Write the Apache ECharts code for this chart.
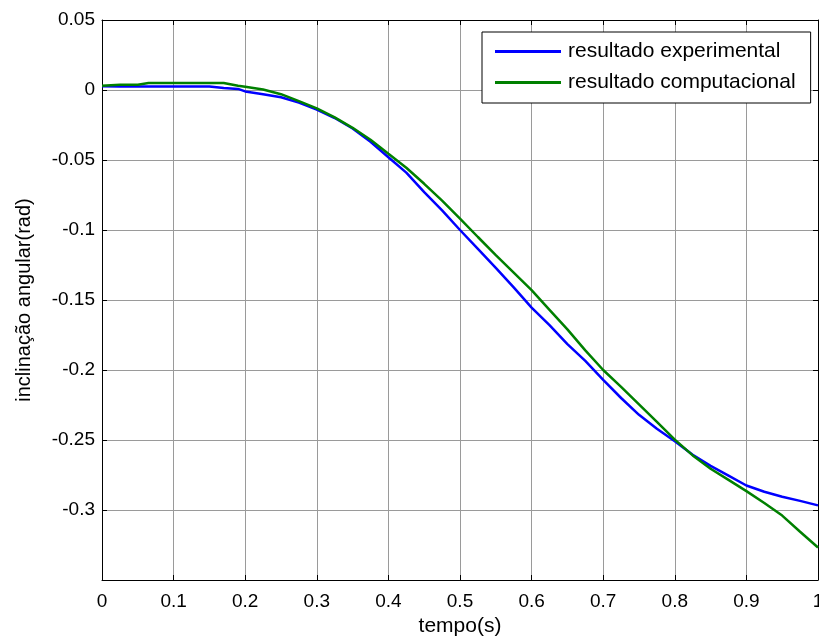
<!DOCTYPE html>
<html>
<head>
<meta charset="utf-8">
<title>inclinação angular</title>
<script src="https://cdn.jsdelivr.net/npm/echarts@6/dist/echarts.min.js"></script>
<style>
	html, body { margin: 0; padding: 0; background: #fff; }
	#chart { width: 819px; height: 639px; }
</style>
</head>
<body>
<div id="chart"></div>
<script>
// tempo (s)
var tempo = [0, 0.025, 0.05, 0.065, 0.075, 0.1, 0.125, 0.15, 0.17, 0.19, 0.2, 0.225, 0.25, 0.275,
	0.3, 0.325, 0.35, 0.375, 0.4, 0.425, 0.45, 0.475, 0.5, 0.525, 0.55, 0.575, 0.6, 0.625,
	0.65, 0.675, 0.7, 0.725, 0.75, 0.775, 0.8, 0.825, 0.85, 0.875, 0.9, 0.925, 0.95, 0.975, 1.0];

// resultado experimental
var experimental = [0.0026, 0.0025, 0.0025, 0.0025, 0.0025, 0.0025, 0.0025, 0.0025, 0.0014, 0.0008, -0.001, -0.003, -0.0052, -0.009,
	-0.014, -0.020, -0.0275, -0.037, -0.048, -0.059, -0.0729, -0.086, -0.100, -0.1135, -0.127, -0.141, -0.1555, -0.168,
	-0.1815, -0.1935, -0.207, -0.220, -0.232, -0.242, -0.2509, -0.2605, -0.2685, -0.2755, -0.2825, -0.287, -0.2905, -0.2935, -0.2967];

// resultado computacional
var computacional = [0.003, 0.0038, 0.0038, 0.005, 0.005, 0.005, 0.005, 0.005, 0.005, 0.003, 0.0023, 0.0003, -0.003, -0.008,
	-0.0131, -0.0195, -0.027, -0.0355, -0.0456, -0.0555, -0.067, -0.079, -0.0918, -0.105, -0.118, -0.1305, -0.143, -0.157,
	-0.171, -0.186, -0.200, -0.212, -0.2245, -0.237, -0.2497, -0.261, -0.2705, -0.2785, -0.2865, -0.295, -0.304, -0.3155, -0.3268];

var nomes = ['resultado experimental', 'resultado computacional'];

//拼接 [x, y]
function pares(ys) {
	return tempo.map(function(t, i) { return [t, ys[i]]; });
}

//刻度标签格式
function rotulo(v) {
	var r = Math.round(v * 100) / 100;
	return String(r);
}

var fonte = 'Liberation Sans, Arial, sans-serif';

var myChart = echarts.init(document.getElementById('chart'));
var option = {
	backgroundColor: '#fff',
	animation: false,
	grid: { left: 102, right: 1, top: 20, bottom: 59, containLabel: false, outerBoundsMode: 'none' },
	legend: {
		data: nomes,
		orient: 'vertical',
		left: 482,
		top: 32,
		padding: [9, 15, 10, 13],
		itemGap: 10,
		itemWidth: 66,
		itemHeight: 3,
		icon: 'rect',
		backgroundColor: '#fff',
		borderColor: '#000',
		borderWidth: 1,
		borderRadius: 0,
		textStyle: { fontFamily: fonte, fontSize: 21, color: '#000', lineHeight: 20, padding: [0, 0, 0, 2] }
	},
	xAxis: [{
		type: 'value',
		min: 0, max: 1, interval: 0.1,
		name: 'tempo(s)',
		nameLocation: 'middle',
		nameGap: 36,
		nameTextStyle: { fontFamily: fonte, fontSize: 21, color: '#000' },
		axisLine: { show: true, onZero: false, lineStyle: { color: '#000', width: 1 } },
		axisTick: { show: true, inside: true, length: 5, lineStyle: { color: '#000' } },
		axisLabel: { margin: 12, fontFamily: fonte, fontSize: 19, color: '#000', formatter: rotulo },
		splitLine: { show: true, lineStyle: { color: '#9a9a9a', width: 1 } }
	}, {
		type: 'value',
		position: 'top',
		min: 0, max: 1, interval: 0.1,
		axisLine: { show: true, onZero: false, lineStyle: { color: '#000', width: 1 } },
		axisTick: { show: true, inside: true, length: 5, lineStyle: { color: '#000' } },
		axisLabel: { show: false },
		splitLine: { show: false }
	}],
	yAxis: [{
		type: 'value',
		min: -0.35, max: 0.05, interval: 0.05,
		name: 'inclinação angular(rad)',
		nameLocation: 'middle',
		nameGap: 68,
		nameTextStyle: { fontFamily: fonte, fontSize: 20, color: '#000' },
		axisLine: { show: true, onZero: false, lineStyle: { color: '#000', width: 1 } },
		axisTick: { show: true, inside: true, length: 5, lineStyle: { color: '#000' } },
		axisLabel: {
			margin: 7, fontFamily: fonte, fontSize: 19, color: '#000',
			formatter: function(v) { return v < -0.34 ? '' : rotulo(v); }
		},
		splitLine: { show: true, lineStyle: { color: '#9a9a9a', width: 1 } }
	}, {
		type: 'value',
		position: 'right',
		min: -0.35, max: 0.05, interval: 0.05,
		axisLine: { show: true, onZero: false, lineStyle: { color: '#000', width: 1 } },
		axisTick: { show: true, inside: true, length: 5, lineStyle: { color: '#000' } },
		axisLabel: { show: false },
		splitLine: { show: false }
	}],
	series: [{
		name: nomes[0],
		type: 'line',
		data: pares(experimental),
		showSymbol: false,
		symbol: 'none',
		itemStyle: { color: '#0000ff' },
		lineStyle: { color: '#0000ff', width: 2.5 }
	}, {
		name: nomes[1],
		type: 'line',
		data: pares(computacional),
		showSymbol: false,
		symbol: 'none',
		itemStyle: { color: '#008000' },
		lineStyle: { color: '#008000', width: 2.5 }
	}]
};
myChart.setOption(option);
</script>
</body>
</html>
